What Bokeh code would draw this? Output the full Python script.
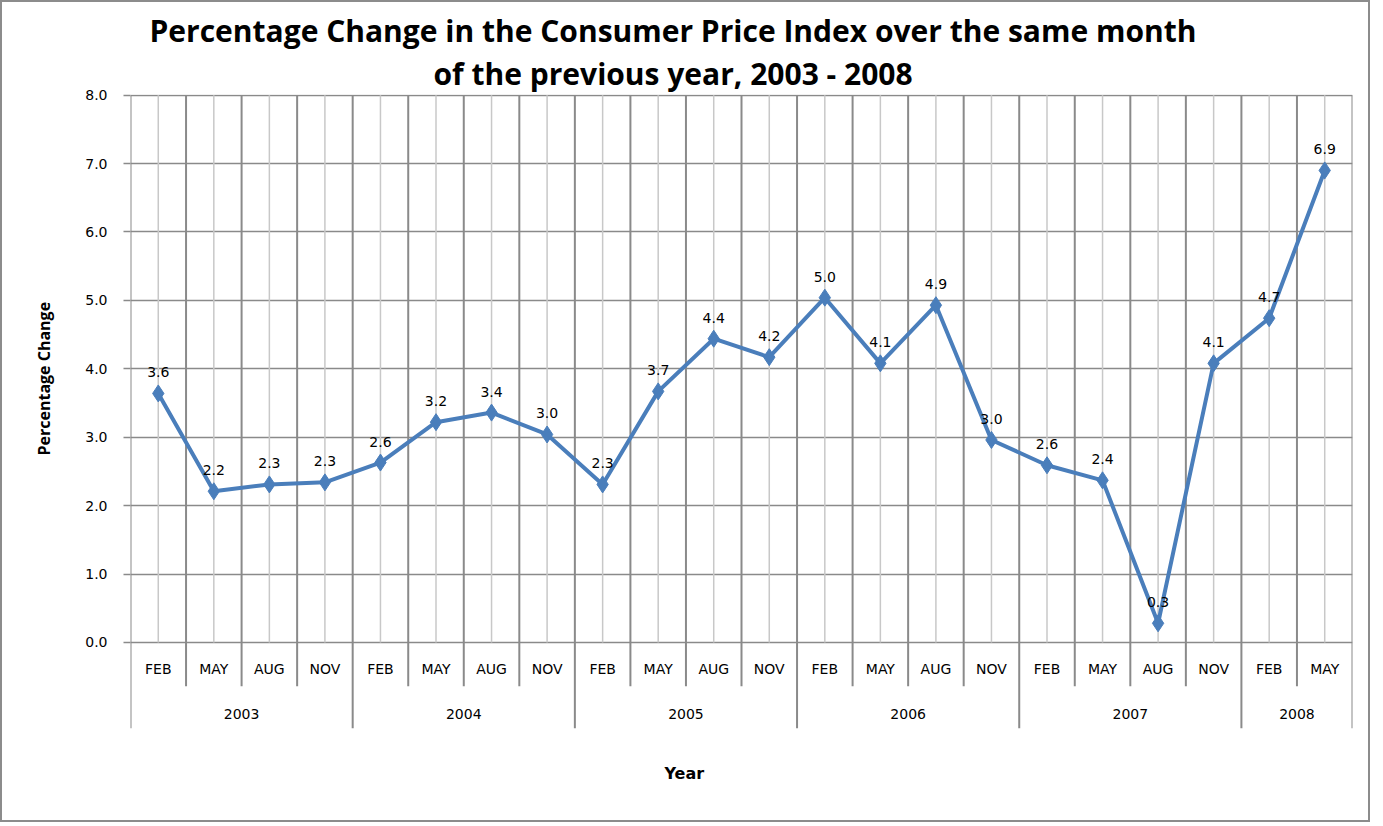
from bokeh.plotting import figure
from bokeh.models import FactorRange, Range1d, FixedTicker, Title, ColumnDataSource, NumeralTickFormatter
from bokeh.core.properties import value
from bokeh.embed import file_html
from bokeh.resources import INLINE

# ---- data ----
years = ["2003"] * 4 + ["2004"] * 4 + ["2005"] * 4 + ["2006"] * 4 + ["2007"] * 4 + ["2008"] * 2
months = ["FEB", "MAY", "AUG", "NOV"] * 5 + ["FEB", "MAY"]
cpi_change = [3.64, 2.21, 2.31, 2.34, 2.63, 3.22, 3.36, 3.04, 2.31, 3.67, 4.44, 4.17,
              5.04, 4.08, 4.93, 2.96, 2.59, 2.37, 0.28, 4.08, 4.74, 6.90]
year_labels = ["2003", "2004", "2005", "2006", "2007", "2008"]
y_ticks = [0, 1, 2, 3, 4, 5, 6, 7, 8]

title_line1 = "Percentage Change in the Consumer Price Index over the same month"
title_line2 = "of the previous year, 2003 - 2008"
y_title = "Percentage Change"
x_title = "Year"

# ---- styling constants ----
BLUE = "#4a7ebb"
DARK = "#8a8a8a"
LIGHT = "#c8c8c8"
MONTH_ROW_BOTTOM = -0.64
YEAR_ROW_BOTTOM = -1.258
MONTH_LABEL_Y = -0.39
YEAR_LABEL_Y = -1.04

factors = list(zip(years, months))

x_range = FactorRange(*factors, factor_padding=0, group_padding=0,
                      subgroup_padding=0, range_padding=0)
y_range = Range1d(YEAR_ROW_BOTTOM, 8.01)

p = figure(width=1370, height=822, x_range=x_range, y_range=y_range,
           output_backend="svg", toolbar_location=None,
           min_border_left=127, min_border_right=20, min_border_top=92, min_border_bottom=96)
p.styles = {"border": "2px solid #8c8c8c"}
p.outline_line_color = None
p.background_fill_color = "white"
p.border_fill_color = "white"

# titles (added inner first)
p.add_layout(Title(text=title_line2, align="left", offset=303, text_font="Open Sans",
                   text_font_size="30px", text_font_style="bold", text_color="black", standoff=1), "above")
p.add_layout(Title(text=title_line1, align="left", offset=19, text_font="Open Sans",
                   text_font_size="30px", text_font_style="bold", text_color="black", standoff=0), "above")

# x axis hidden: categories drawn as text rows inside the extended frame
p.xaxis.visible = False
p.xgrid.visible = False
p.add_layout(Title(text=x_title, align="left", offset=534, text_font="DejaVu Sans",
                   text_font_size="16px", text_font_style="bold", text_color="black",
                   vertical_align="bottom", standoff=67), "below")

# y axis
p.yaxis.ticker = FixedTicker(ticks=y_ticks)
p.yaxis.formatter = NumeralTickFormatter(format="0.0")
p.yaxis.axis_line_color = None
p.yaxis.major_tick_line_color = DARK
p.yaxis.major_tick_line_width = 1.5
p.yaxis.major_tick_out = 7
p.yaxis.major_tick_in = 0
p.yaxis.minor_tick_line_color = None
p.yaxis.major_label_text_font = "DejaVu Sans"
p.yaxis.major_label_text_font_size = "14px"
p.yaxis.major_label_text_color = "black"
p.yaxis.major_label_standoff = 16
p.add_layout(Title(text=y_title, align="left", offset=273, text_font="Open Sans",
                   text_font_size="16px", text_font_style="bold", text_color="black",
                   standoff=56), "left")

p.ygrid.ticker = FixedTicker(ticks=y_ticks)
p.ygrid.grid_line_color = DARK
p.ygrid.grid_line_width = 1.5

# vertical lines: light at category centres, dark at boundaries
center_src = ColumnDataSource(dict(x=factors, y0=[0] * len(factors), y1=[8] * len(factors)))
p.segment(x0="x", y0="y0", x1="x", y1="y1", source=center_src, line_color=LIGHT, line_width=1.5)

bx, by0 = [], []
for (yr, mo) in factors:
    bx.append((yr, mo, -0.5))
    by0.append(YEAR_ROW_BOTTOM if mo == "FEB" else MONTH_ROW_BOTTOM)
bx.append(factors[-1] + (0.5,))
by0.append(YEAR_ROW_BOTTOM)
bound_src = ColumnDataSource(dict(x=bx, y0=by0, y1=[8] * len(bx)))
p.segment(x0="x", y0="y0", x1="x", y1="y1", source=bound_src, line_color=DARK, line_width=2)

# category label rows
p.text(x=factors, y=[MONTH_LABEL_Y] * len(factors), text=months, text_align="center",
       text_baseline="middle", text_font=value("DejaVu Sans"), text_font_size="14px", text_color="black")
p.text(x=year_labels, y=[YEAR_LABEL_Y] * len(year_labels), text=year_labels, text_align="center",
       text_baseline="middle", text_font=value("DejaVu Sans"), text_font_size="14px", text_color="black")

# series
src = ColumnDataSource(dict(x=factors, y=cpi_change, lbl=[f"{v:.1f}" for v in cpi_change]))
p.line(x="x", y="y", source=src, line_color=BLUE, line_width=4)
p.scatter(x="x", y="y", source=src, marker="diamond", size=17, fill_color=BLUE, line_color=BLUE)
p.text(x="x", y="y", text="lbl", source=src, text_align="center", text_baseline="alphabetic",
       y_offset=-21, text_font=value("DejaVu Sans"), text_font_size="14px", text_color="black")

open("out.html", "w").write(file_html(p, INLINE))
